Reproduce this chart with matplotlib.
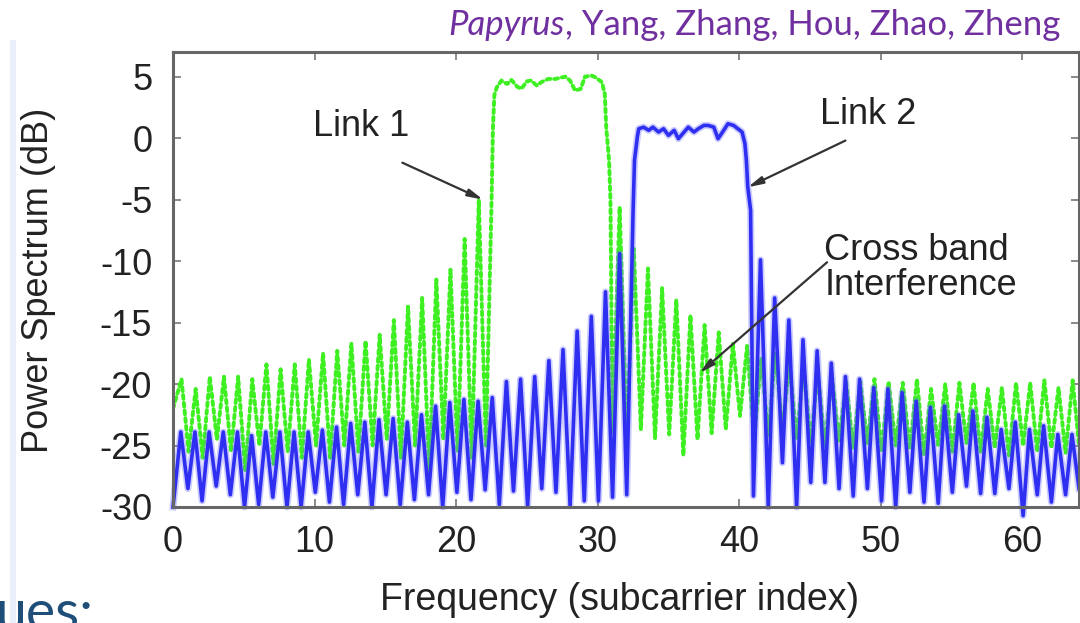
import matplotlib.pyplot as plt
from matplotlib.patches import Rectangle

# ---- data (dB) ----
# Link 1 (green): sidelobe peaks / nulls, one per subcarrier
g_left_peaks = [-19.6, -20.4, -19.4, -19.4, -19.4, -19.6, -18.4, -18.8, -18.4, -18.0, -17.5,
                -17.3, -16.7, -16.5, -16.0, -14.8, -13.7, -13.0, -11.5, -10.7, -8.2, -5.0]
g_left_nulls = [-25.5, -26.0, -24.5, -25.5, -27.0, -25.0, -26.5, -25.5, -26.0, -25.0, -26.0,
                -25.0, -25.5, -25.0, -24.5, -26.0, -25.0, -27.0, -24.5, -25.5, -26.0, -25.0]
g_main_x = [22.5, 22.56, 22.6, 22.7, 22.87, 23.2, 23.6, 23.9, 24.3, 24.6, 25.0, 25.3, 25.7, 26.0,
            26.5, 27.0, 27.7, 28.05, 28.4, 28.8, 29.1, 29.6, 29.9, 30.3, 30.5, 30.6, 30.8, 30.9]
g_main_y = [-5.3, -1.8, 0.9, 3.5, 4.13, 4.68, 4.4, 4.73, 4.19, 4.0, 4.62, 4.68, 4.27, 4.54,
            4.81, 4.81, 5.0, 4.68, 3.87, 4.0, 5.0, 5.08, 4.9, 4.54, 3.6, 0.9, -1.8, -5.0]
g_right_peaks = [-5.6, -9.0, -10.6, -12.2, -13.15, -14.4, -15.2, -15.8, -16.7, -16.9, -17.9,
                 -17.5, -18.3, -18.7, -19.1, -19.4, -19.8, -19.8, -19.6, -19.8, -19.9, -19.6,
                 -20.4, -20.0, -19.9, -19.9, -20.4, -20.3, -19.9, -19.9, -19.7, -20.3, -19.7]
g_right_nulls = [-24.0, -24.5, -23.7, -24.4, -24.1, -25.8, -24.5, -24.0, -23.7, -22.6, -24.5,
                 -24.2, -23.7, -24.5, -24.8, -25.0, -24.6, -25.2, -24.8, -25.5, -25.0, -25.3,
                 -25.8, -25.0, -25.5, -24.8, -25.6, -25.2, -25.8, -25.0, -25.5, -25.2, -25.6, -25.0]

# Link 2 (blue)
b_left_peaks = [-23.9, -23.9, -23.9, -23.9, -23.9, -24.2, -23.9, -23.9, -23.9, -23.9, -23.75,
                -23.5, -23.2, -23.1, -22.9, -22.8, -23.1, -22.5, -21.8, -21.5, -21.25, -21.4,
                -21.1, -19.8, -19.6, -19.4, -18.1, -17.2, -15.7, -14.5, -12.5, -9.4]
b_left_nulls = [-30.0, -28.5, -29.5, -28.3, -29.0, -30.0, -29.8, -29.2, -30.0, -30.0, -28.8,
                -29.6, -29.8, -29.0, -30.0, -29.0, -29.8, -29.4, -29.0, -30.0, -28.8, -29.4,
                -28.6, -29.8, -28.7, -29.9, -28.5, -28.8, -29.9, -29.5, -29.5, -29.2, -29.0]
b_main_x = [32.5, 32.6, 32.8, 32.9, 33.24, 33.6, 33.9, 34.3, 34.65, 35.0, 35.4, 35.7, 36.1, 36.4,
            36.8, 37.1, 37.5, 37.8, 38.2, 38.5, 38.9, 39.2, 39.6, 39.9, 40.2, 40.4, 40.5, 40.6,
            40.8, 41.0]
b_main_y = [-5.9, -1.8, 0.1, 0.76, 0.89, 0.63, 0.89, 0.49, 0.76, 0.22, 0.63, -0.05, 0.49, 0.89,
            0.49, 0.76, 1.03, 1.03, 0.89, -0.05, 0.63, 1.17, 1.03, 0.76, 0.49, -0.46, -1.8, -3.97,
            -5.86, -29.1]
b_right_peaks = [-9.9, -13.0, -14.8, -16.4, -17.3, -18.3, -19.4, -19.6, -20.3, -20.4, -20.7,
                 -21.4, -21.9, -21.8, -22.5, -22.2, -22.7, -23.7, -23.1, -23.7, -23.4, -24.1, -24.1]
b_right_nulls = [-30.0, -26.4, -30.0, -28.0, -28.0, -28.5, -29.1, -28.5, -29.5, -30.0, -28.8,
                 -29.6, -29.7, -28.8, -28.3, -28.9, -28.9, -28.5, -30.7, -29.0, -29.6, -29.0, -28.5]

x_ticks = [0, 10, 20, 30, 40, 50, 60]
y_ticks = [-30, -25, -20, -15, -10, -5, 0, 5]


def interleave(first_x, first_y, second_x, second_y):
    xs, ys = [], []
    for i in range(max(len(first_x), len(second_x))):
        if i < len(first_x):
            xs.append(first_x[i]); ys.append(first_y[i])
        if i < len(second_x):
            xs.append(second_x[i]); ys.append(second_y[i])
    return xs, ys


# green series
gx, gy = [0.0], [-22.0]
lx, ly = interleave([k + 0.6 for k in range(22)], g_left_peaks,
                    [k + 0.1 for k in range(1, 23)], g_left_nulls)
gx += lx; gy += ly
gx += g_main_x; gy += g_main_y
rx, ry = interleave([k + 0.05 for k in range(31, 64)] + [64.0], g_right_nulls,
                    [k + 0.55 for k in range(31, 64)], g_right_peaks)
gx += rx; gy += ry

# blue series
bx, by = interleave([0.0] + [k + 0.05 for k in range(1, 33)], b_left_nulls,
                    [k + 0.55 for k in range(32)], b_left_peaks)
bx += b_main_x; by += b_main_y
rx, ry = interleave([k + 0.5 for k in range(41, 64)], b_right_peaks,
                    [k + 0.05 for k in range(42, 64)] + [64.0], b_right_nulls)
bx += rx; by += ry

plt.rcParams['font.family'] = ['Liberation Sans', 'DejaVu Sans']
plt.rcParams['axes.unicode_minus'] = False
text_col = '#222222'

fig = plt.figure(figsize=(10.8, 6.23), dpi=100)
ax = fig.add_axes([0.1602, 0.1862, 0.8389, 0.7303])

ax.plot(gx, gy, color='#3ef021', lw=2.8, linestyle=(0, (1, 1.0)), dash_capstyle='round')
# soft halo + core to mimic the blurred solid blue trace
ax.plot(bx, by, color='#6b6bff', lw=5, alpha=0.35, solid_joinstyle='round', clip_on=False)
ax.plot(bx, by, color='#2f2ff2', lw=2.6, solid_joinstyle='round', clip_on=False)

ax.set_xlim(0, 64)
ax.set_ylim(-30, 7)
ax.set_xticks(x_ticks)
ax.set_yticks(y_ticks)
ax.tick_params(direction='in', length=6, width=1.2, color='#777777', top=True, right=True,
               labelsize=26, labelcolor=text_col)
ax.tick_params(axis='x', pad=13)
ax.tick_params(axis='y', pad=15)
for sp in ax.spines.values():
    sp.set_color('#666666')
    sp.set_linewidth(2.2)

arrow = dict(arrowstyle='-|>,head_width=0.22,head_length=0.9', color='#333333', lw=1.6,
             shrinkA=0, shrinkB=0)
ax.text(13.3, 0.95, 'Link 1', fontsize=26, color=text_col, ha='center', va='center')
ax.annotate('', xy=(21.9, -5.0), xytext=(16.2, -2.0), arrowprops=arrow)
ax.text(49.1, 1.9, 'Link 2', fontsize=26, color=text_col, ha='center', va='center')
ax.annotate('', xy=(40.6, -4.0), xytext=(47.5, -0.2), arrowprops=arrow)
ax.text(46.0, -10.6, 'Cross band\nInterference', fontsize=26, color=text_col,
        ha='left', va='center', linespacing=1.0)
ax.annotate('', xy=(37.2, -19.1), xytext=(46.2, -10.1), arrowprops=arrow)

fig.text(39 / 1080, 1 - 280 / 623, 'Power Spectrum (dB)', rotation=90, fontsize=26,
         color=text_col, ha='center', va='center')
fig.text(620 / 1080, 1 - 600 / 623, 'Frequency (subcarrier index)', fontsize=27,
         color=text_col, ha='center', va='center')

# slide decorations
fig.patches.append(Rectangle((10 / 1080, 0), 6 / 1080, 1 - 40 / 623, transform=fig.transFigure,
                             facecolor='#e9eff9', edgecolor='none'))
fig.text(-0.004, -0.012, 'ues:', fontsize=40, color='#1f4e79', family='Lato',
         ha='left', va='baseline')

purple = '#7030a0'
rest = fig.text(1060 / 1080, 1 - 35 / 623, ', Yang, Zhang, Hou, Zhao, Zheng', fontsize=25,
                color=purple, family='Lato', ha='right', va='baseline')
renderer = fig.canvas.get_renderer()
bb = rest.get_window_extent(renderer)
fig.text(bb.x0 / 1080, 1 - 35 / 623, 'Papyrus', fontsize=25, color=purple, family='Lato',
         style='italic', ha='right', va='baseline')

fig.savefig('out.png', dpi=100)
